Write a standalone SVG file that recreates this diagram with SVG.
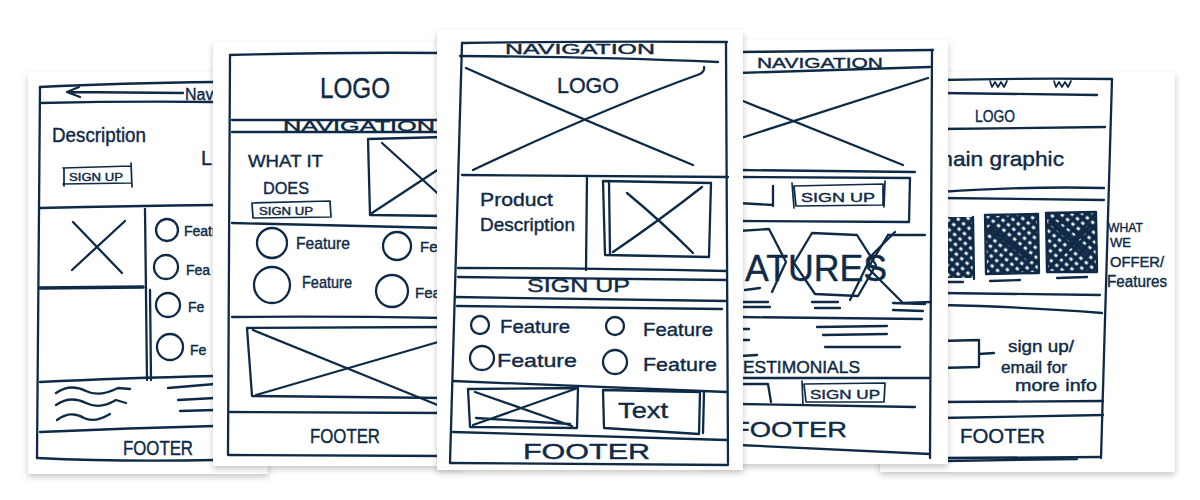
<svg xmlns="http://www.w3.org/2000/svg" width="1200" height="500" viewBox="0 0 1200 500">
  <defs>
    <filter id="paperShadow" x="-10%" y="-10%" width="120%" height="120%">
      <feDropShadow dx="0" dy="3" stdDeviation="3" flood-color="#000" flood-opacity="0.22"/>
    </filter>
    <!-- dense cross-hatching used for the filled tiles -->
    <pattern id="hatch" width="7" height="7" patternUnits="userSpaceOnUse" patternTransform="rotate(40)">
      <rect width="7" height="7" fill="#ffffff"/>
      <line x1="0" y1="3.5" x2="7" y2="3.5" stroke="#0f2a46" stroke-width="4.2"/>
      <line x1="3.5" y1="0" x2="3.5" y2="7" stroke="#0f2a46" stroke-width="3.8"/>
    </pattern>
    <style>
      .paper { fill: #ffffff; filter: url(#paperShadow); }
      .ink { fill: none; stroke: #0f2a46; stroke-width: 2.3; stroke-linecap: round; stroke-linejoin: round; }
      .thin { stroke-width: 1.7; }
      .thick { stroke-width: 3.6; }
      .hand { font-family: "Liberation Sans", "DejaVu Sans", sans-serif; fill: #0f2a46; stroke: #0f2a46; stroke-width: 0.4; }
    </style>
  </defs>

  <rect width="1200" height="500" fill="#ffffff"/>

  <!-- sheet 1: far left, partly covered -->
  <g id="sheet-1">
    <rect class="paper" x="28" y="72" width="240" height="402"/>
    <path class="ink" d="M40,87 Q120,83 215,82"/>
    <path class="ink" d="M68,92 L183,93 M79,87 L67,92 L80,97"/>
    <text class="hand" x="185" y="100" font-size="16">Nav</text>
    <path class="ink" d="M40,103 Q130,101 215,102"/>
    <path class="ink" d="M40,87 L37,458"/>
    <text class="hand" x="52" y="142" font-size="20" textLength="94" lengthAdjust="spacingAndGlyphs">Description</text>
    <text class="hand" x="201" y="165" font-size="20">L</text>
    <path class="ink thin" d="M63,168 L131,166 M64,168 L64,186 M63,184 L131,183 M131,163 L132,187"/>
    <text class="hand" x="69" y="181" font-size="10" textLength="54" lengthAdjust="spacingAndGlyphs">SIGN UP</text>
    <path class="ink" d="M40,208 Q130,206 215,205"/>
    <path class="ink" d="M145,209 L147,380 M150,290 L151,380"/>
    <path class="ink" d="M73,222 L122,273 M125,221 L72,270"/>
    <path class="ink thick" d="M40,288 L143,287"/>
    <circle class="ink" cx="167" cy="230" r="11"/>
    <circle class="ink" cx="166" cy="267" r="12"/>
    <circle class="ink" cx="168" cy="305" r="12"/>
    <circle class="ink" cx="170" cy="347" r="13"/>
    <text class="hand" x="184" y="236" font-size="14">Featu</text>
    <text class="hand" x="186" y="275" font-size="14">Fea</text>
    <text class="hand" x="188" y="312" font-size="14">Fe</text>
    <text class="hand" x="190" y="355" font-size="14">Fe</text>
    <path class="ink" d="M40,382 Q120,378 215,376"/>
    <path class="ink" d="M56,393 C66,386 76,386 86,391 C96,396 106,394 118,388 L130,389"/>
    <path class="ink" d="M56,405 C66,398 76,398 86,403 C96,408 106,406 116,400 L126,403"/>
    <path class="ink" d="M57,420 C66,413 76,413 84,418 C92,422 100,420 110,414"/>
    <path class="ink" d="M168,388 L215,384 M178,400 L215,398 M180,411 L215,410"/>
    <path class="ink" d="M40,432 Q130,428 215,426"/>
    <text class="hand" x="123" y="455" font-size="20" textLength="70" lengthAdjust="spacingAndGlyphs">FOOTER</text>
    <path class="ink" d="M37,458 Q120,462 215,460"/>
  </g>

  <!-- sheet 2 -->
  <g id="sheet-2">
    <rect class="paper" x="213" y="42" width="250" height="424"/>
    <path class="ink" d="M230,55 Q330,52 445,53"/>
    <path class="ink" d="M230,55 L228,455"/>
    <text class="hand" x="320" y="98" font-size="29" textLength="70" lengthAdjust="spacingAndGlyphs">LOGO</text>
    <path class="ink" d="M232,120 L445,120 M232,132 L445,132"/>
    <text class="hand" x="283" y="131" font-size="14" textLength="152" lengthAdjust="spacingAndGlyphs">NAVIGATION</text>
    <text class="hand" x="248" y="167" font-size="17" textLength="75" lengthAdjust="spacingAndGlyphs">WHAT IT</text>
    <text class="hand" x="263" y="194" font-size="17" textLength="46" lengthAdjust="spacingAndGlyphs">DOES</text>
    <path class="ink thin" d="M252,203 L330,201 L331,217 L253,218 Z"/>
    <text class="hand" x="259" y="215" font-size="10" textLength="54" lengthAdjust="spacingAndGlyphs">SIGN UP</text>
    <path class="ink" d="M368,139 L445,137 M368,139 L370,215 L445,216"/>
    <path class="ink" d="M382,143 L445,200 M372,213 L445,165"/>
    <path class="ink" d="M232,223 Q330,225 445,228"/>
    <circle class="ink" cx="272" cy="243" r="15"/>
    <circle class="ink" cx="397" cy="246" r="14"/>
    <circle class="ink" cx="272" cy="285" r="18"/>
    <circle class="ink" cx="392" cy="291" r="16"/>
    <text class="hand" x="296" y="249" font-size="17" textLength="54" lengthAdjust="spacingAndGlyphs">Feature</text>
    <text class="hand" x="302" y="288" font-size="17" textLength="50" lengthAdjust="spacingAndGlyphs">Feature</text>
    <text class="hand" x="420" y="252" font-size="15">Fe</text>
    <text class="hand" x="415" y="298" font-size="15">Fea</text>
    <path class="ink" d="M232,317 Q330,316 445,318"/>
    <path class="ink" d="M247,328 L445,327 M247,328 L252,396 L445,398"/>
    <path class="ink" d="M253,330 L445,408 M256,395 L445,340"/>
    <path class="ink" d="M230,412 L445,413"/>
    <text class="hand" x="310" y="443" font-size="20" textLength="70" lengthAdjust="spacingAndGlyphs">FOOTER</text>
    <path class="ink" d="M229,455 L445,456"/>
  </g>

  <!-- sheet 5: far right, partly covered -->
  <g id="sheet-5">
    <rect class="paper" x="880" y="72" width="295" height="400"/>
    <path class="ink" d="M940,80 Q1030,78 1112,79"/>
    <path class="ink thin" d="M990,81 L992,87 L995,82 L998,87 L1001,82 L1004,87 L1007,81"/>
    <path class="ink thin" d="M1054,81 L1056,87 L1059,82 L1062,87 L1065,82 L1068,87 L1071,81"/>
    <path class="ink" d="M940,93 L1097,95"/>
    <path class="ink" d="M1112,79 Q1106,270 1101,458"/>
    <text class="hand" x="975" y="122" font-size="16" textLength="40" lengthAdjust="spacingAndGlyphs">LOGO</text>
    <path class="ink" d="M940,129 L1105,127"/>
    <text class="hand" x="934" y="166" font-size="21" textLength="130" lengthAdjust="spacingAndGlyphs">main graphic</text>
    <path class="ink" d="M940,192 Q1030,186 1104,188 M940,198 L1104,200"/>
    <rect x="940" y="217" width="33" height="61" fill="url(#hatch)"/>
    <rect x="985" y="215" width="53" height="58" fill="url(#hatch)"/>
    <rect x="1046" y="213" width="50" height="59" fill="url(#hatch)"/>
    <path class="ink" d="M973,217 L974,279 M985,215 L1038,214 L1039,273 L986,274 Z M1046,213 L1096,212 L1097,272 L1047,272 Z"/>
    <path class="ink thick" d="M990,228 L1030,260 M1050,222 L1088,255 M1058,218 L1096,248 M1052,265 L1090,226"/>
    <path class="ink" d="M945,282 L963,282 M990,281 L1020,280 M1057,278 L1087,277"/>
    <text class="hand" x="1108" y="232" font-size="13" textLength="35" lengthAdjust="spacingAndGlyphs">WHAT</text>
    <text class="hand" x="1110" y="247" font-size="13" textLength="21" lengthAdjust="spacingAndGlyphs">WE</text>
    <text class="hand" x="1110" y="267" font-size="14" textLength="54" lengthAdjust="spacingAndGlyphs">OFFER/</text>
    <text class="hand" x="1107" y="287" font-size="16" textLength="60" lengthAdjust="spacingAndGlyphs">Features</text>
    <path class="ink" d="M940,293 L1100,295"/>
    <path class="ink" d="M940,305 Q1030,307 1102,313"/>
    <path class="ink" d="M940,341 L979,340 L979,367 L940,368 M979,354 L994,353"/>
    <text class="hand" x="1008" y="352" font-size="16" textLength="66" lengthAdjust="spacingAndGlyphs">sign up/</text>
    <text class="hand" x="1001" y="373" font-size="16" textLength="66" lengthAdjust="spacingAndGlyphs">email for</text>
    <text class="hand" x="1015" y="391" font-size="16" textLength="82" lengthAdjust="spacingAndGlyphs">more info</text>
    <path class="ink" d="M940,402 L1103,401"/>
    <path class="ink" d="M940,418 L1103,415"/>
    <text class="hand" x="960" y="443" font-size="20" textLength="85" lengthAdjust="spacingAndGlyphs">FOOTER</text>
    <path class="ink" d="M940,458 L1101,457 M945,461 L1077,459"/>
  </g>

  <!-- sheet 4 -->
  <g id="sheet-4">
    <rect class="paper" x="700" y="40" width="248" height="424"/>
    <path class="ink" d="M738,52 L933,50"/>
    <path class="ink" d="M932,50 L930,458"/>
    <text class="hand" x="757" y="68" font-size="15" textLength="126" lengthAdjust="spacingAndGlyphs">NAVIGATION</text>
    <path class="ink" d="M738,73 L930,67"/>
    <path class="ink" d="M738,99 L903,165 M738,139 L928,78"/>
    <path class="ink" d="M738,170 L915,172"/>
    <path class="ink" d="M738,177 L910,178 L909,222 L738,221"/>
    <path class="ink" d="M738,203 L773,205 M773,186 L773,206"/>
    <path class="ink thin" d="M794,186 L883,184 L883,205 L796,206 Z M792,183 L794,208 M885,181 L884,207"/>
    <text class="hand" x="801" y="202" font-size="13" textLength="74" lengthAdjust="spacingAndGlyphs">SIGN UP</text>
    <!-- hexagon outlines behind the heading -->
    <path class="ink" d="M738,231 L769,229 L786,262 L772,292 M745,290 L760,288"/>
    <path class="ink" d="M812,233 L857,235 L876,265 L858,296 L815,294 L794,263 Z"/>
    <path class="ink" d="M888,235 L925,235 M888,235 L868,268 L903,303 L931,302"/>
    <path class="ink" d="M850,300 L872,255 L895,232"/>
    <text class="hand" x="745" y="281" font-size="36" textLength="142" lengthAdjust="spacingAndGlyphs">ATURES</text>
    <path class="ink" d="M738,302 L768,302 M738,307 L770,307 M812,302 L838,302 M815,308 L840,308 M893,303 L925,304 M893,310 L923,311"/>
    <path class="ink" d="M738,317 L922,319"/>
    <path class="ink" d="M743,329 L749,329 M743,340 L749,340 M817,327 L887,326 M823,335 L887,334 M825,347 L900,347 M741,356 L757,355"/>
    <text class="hand" x="743" y="373" font-size="16" textLength="117" lengthAdjust="spacingAndGlyphs">ESTIMONIALS</text>
    <path class="ink" d="M738,378 L930,378"/>
    <path class="ink" d="M738,384 L768,384 L771,402"/>
    <path class="ink thin" d="M804,384 L885,383 L884,402 L806,402 Z M802,381 L803,405"/>
    <text class="hand" x="810" y="399" font-size="13" textLength="70" lengthAdjust="spacingAndGlyphs">SIGN UP</text>
    <path class="ink" d="M738,404 L915,407"/>
    <text class="hand" x="733" y="437" font-size="22" textLength="114" lengthAdjust="spacingAndGlyphs">FOOTER</text>
    <path class="ink" d="M738,445 L930,454"/>
  </g>

  <!-- sheet 3: centre, on top -->
  <g id="sheet-3">
    <rect class="paper" x="437" y="30" width="306" height="440"/>
    <path class="ink" d="M462,43 Q600,41 727,42"/>
    <path class="ink" d="M462,43 L450,463"/>
    <path class="ink" d="M726,43 L728,463"/>
    <text class="hand" x="505" y="54" font-size="14" textLength="150" lengthAdjust="spacingAndGlyphs">NAVIGATION</text>
    <path class="ink" d="M460,56 Q600,57 718,62"/>
    <path class="ink" d="M466,68 Q560,110 693,165"/>
    <path class="ink" d="M473,170 Q600,110 700,74 Q705,71 704,67"/>
    <text class="hand" x="557" y="93" font-size="22" textLength="62" lengthAdjust="spacingAndGlyphs">LOGO</text>
    <path class="ink" d="M462,175 L728,177"/>
    <path class="ink" d="M587,176 L586,270"/>
    <text class="hand" x="480" y="206" font-size="19" textLength="73" lengthAdjust="spacingAndGlyphs">Product</text>
    <text class="hand" x="480" y="231" font-size="19" textLength="95" lengthAdjust="spacingAndGlyphs">Description</text>
    <path class="ink" d="M603,181 L711,183 L709,257 L605,255 Z M609,181 L610,255"/>
    <path class="ink" d="M627,193 Q662,222 693,253 M613,252 Q660,220 702,187"/>
    <path class="ink" d="M458,268 Q590,268 727,271"/>
    <path class="ink" d="M458,277 L727,280"/>
    <text class="hand" x="527" y="292" font-size="19" textLength="103" lengthAdjust="spacingAndGlyphs">SIGN UP</text>
    <path class="ink" d="M455,297 L727,301"/>
    <path class="ink" d="M457,306 L722,309"/>
    <circle class="ink" cx="480" cy="325" r="9"/>
    <text class="hand" x="500" y="333" font-size="19" textLength="70" lengthAdjust="spacingAndGlyphs">Feature</text>
    <circle class="ink" cx="615" cy="326" r="9"/>
    <text class="hand" x="643" y="336" font-size="19" textLength="70" lengthAdjust="spacingAndGlyphs">Feature</text>
    <circle class="ink" cx="482" cy="358" r="12"/>
    <text class="hand" x="497" y="367" font-size="19" textLength="80" lengthAdjust="spacingAndGlyphs">Feature</text>
    <circle class="ink" cx="615" cy="362" r="12"/>
    <text class="hand" x="643" y="371" font-size="19" textLength="74" lengthAdjust="spacingAndGlyphs">Feature</text>
    <path class="ink" d="M453,381 L727,392"/>
    <path class="ink" d="M468,389 L578,388 L577,428 L470,427 Z"/>
    <path class="ink" d="M475,392 L572,426 M473,425 L575,389 M476,418 L570,424"/>
    <path class="ink" d="M603,390 L700,392 L699,434 L604,428 Z M704,392 L703,433"/>
    <text class="hand" x="618" y="418" font-size="22" textLength="50" lengthAdjust="spacingAndGlyphs">Text</text>
    <path class="ink" d="M453,432 L727,440"/>
    <text class="hand" x="523" y="459" font-size="22" textLength="127" lengthAdjust="spacingAndGlyphs">FOOTER</text>
    <path class="ink" d="M450,463 L728,465"/>
  </g>
</svg>
